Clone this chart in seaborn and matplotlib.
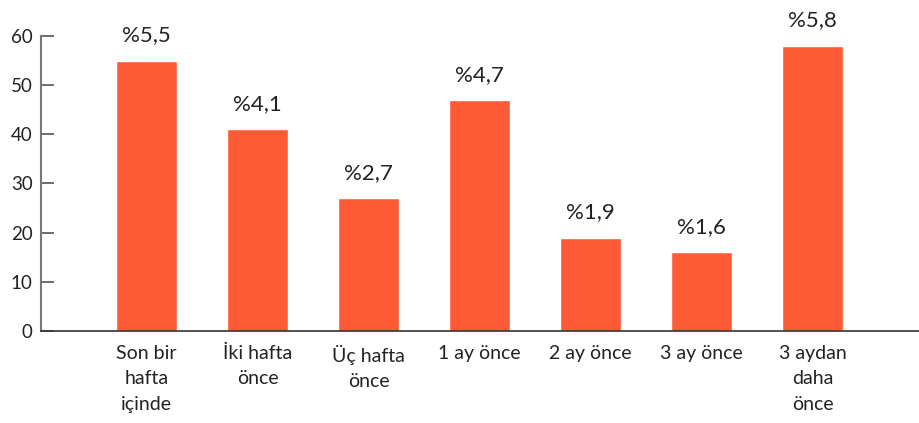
import matplotlib
matplotlib.use("Agg")
import matplotlib.pyplot as plt
import seaborn as sns
import pandas as pd

categories = ["Son bir\nhafta\niçinde", "İki hafta\nönce", "Üç hafta\nönce",
              "1 ay önce", "2 ay önce", "3 ay önce", "3 aydan\ndaha\nönce"]
values = [55, 41, 27, 47, 19, 16, 58]
labels = ["%5,5", "%4,1", "%2,7", "%4,7", "%1,9", "%1,6", "%5,8"]
yticks = [0, 10, 20, 30, 40, 50, 60]

sns.set_style("white")
plt.rcParams["font.family"] = ["Lato", "DejaVu Sans"]

df = pd.DataFrame({"cat": categories, "val": values})

fig = plt.figure(figsize=(9.19, 4.23), dpi=100)
ax = fig.add_axes([41 / 919, 92 / 423, 878 / 919, 295 / 423])
sns.barplot(data=df, x="cat", y="val", color="#FF5A36", saturation=1,
            width=0.55, ax=ax)

for i, (v, lab) in enumerate(zip(values, labels)):
    ax.annotate(lab, (i, v), xytext=(0, 11), textcoords="offset points",
                ha="center", va="bottom", fontsize=16, color="#222222")

ax.set_xlim(-0.95, 6.96)
ax.set_ylim(0, 60)
ax.set_yticks(yticks)
ax.set_xlabel("")
ax.set_ylabel("")
ax.tick_params(axis="y", left=True, direction="in", length=9.5, width=1.2,
               color="#555555", labelsize=13.5, labelcolor="#222222", pad=6)
ax.tick_params(axis="x", bottom=False, length=0, labelsize=14,
               labelcolor="#222222", pad=10)
for lbl in ax.get_xticklabels():
    lbl.set_linespacing(1.6)
for s in ["top", "right"]:
    ax.spines[s].set_visible(False)
ax.spines["left"].set_color("#777777")
ax.spines["left"].set_linewidth(1.5)
ax.spines["bottom"].set_color("#333333")
ax.spines["bottom"].set_linewidth(1.2)

fig.savefig("out.png", dpi=100)
